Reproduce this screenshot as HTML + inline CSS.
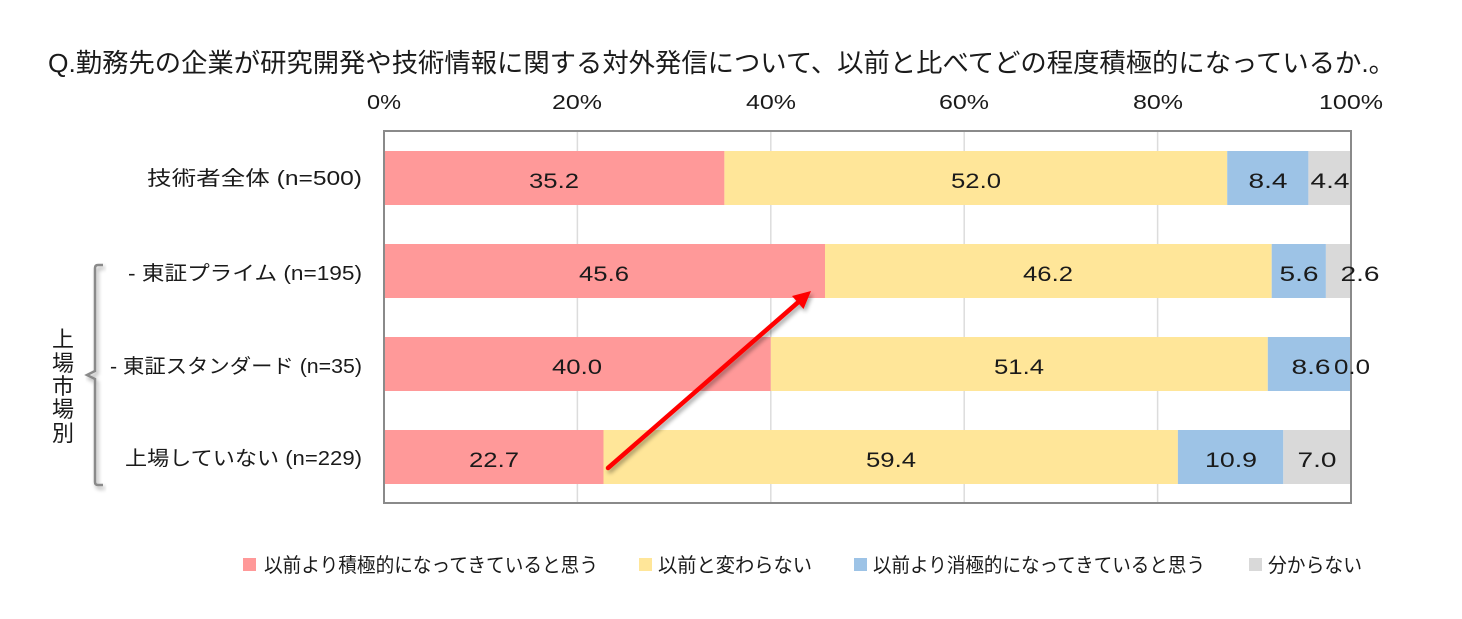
<!DOCTYPE html>
<html><head><meta charset="utf-8">
<style>
html,body{margin:0;padding:0;background:#fff;}
svg{display:block;}
text{font-family:"Liberation Sans","Noto Sans CJK JP",sans-serif;fill:#1a1a1a;}
</style></head>
<body>
<svg width="1462" height="619" viewBox="0 0 1462 619" xmlns="http://www.w3.org/2000/svg">
<defs>
<filter id="sh" x="-20%" y="-50%" width="140%" height="200%">
<feGaussianBlur in="SourceAlpha" stdDeviation="2"/>
<feOffset dx="2" dy="3" result="b"/>
<feComponentTransfer><feFuncA type="linear" slope="0.35"/></feComponentTransfer>
<feMerge><feMergeNode/><feMergeNode in="SourceGraphic"/></feMerge>
</filter>
</defs>
<rect width="1462" height="619" fill="#fff"/>

<!-- title -->
<text x="48" y="72" font-size="26" textLength="1347" lengthAdjust="spacingAndGlyphs">Q.勤務先の企業が研究開発や技術情報に関する対外発信について、以前と比べてどの程度積極的になっているか.。</text>

<!-- axis tick labels -->
<g font-size="20" text-anchor="middle">
<text x="384" y="109" textLength="34" lengthAdjust="spacingAndGlyphs">0%</text>
<text x="577" y="109" textLength="50" lengthAdjust="spacingAndGlyphs">20%</text>
<text x="771" y="109" textLength="50" lengthAdjust="spacingAndGlyphs">40%</text>
<text x="964" y="109" textLength="50" lengthAdjust="spacingAndGlyphs">60%</text>
<text x="1158" y="109" textLength="50" lengthAdjust="spacingAndGlyphs">80%</text>
<text x="1351" y="109" textLength="64" lengthAdjust="spacingAndGlyphs">100%</text>
</g>

<!-- gridlines -->
<g stroke="#dcdcdc" stroke-width="1.5">
<line x1="577.4" y1="131" x2="577.4" y2="503"/>
<line x1="770.8" y1="131" x2="770.8" y2="503"/>
<line x1="964.2" y1="131" x2="964.2" y2="503"/>
<line x1="1157.6" y1="131" x2="1157.6" y2="503"/>
</g>

<!-- bars -->
<g>
<rect x="384" y="151" width="340.4" height="54" fill="#ff9999"/>
<rect x="724.4" y="151" width="502.8" height="54" fill="#ffe699"/>
<rect x="1227.2" y="151" width="81.2" height="54" fill="#9dc3e6"/>
<rect x="1308.4" y="151" width="42.6" height="54" fill="#d9d9d9"/>

<rect x="384" y="244" width="441" height="54" fill="#ff9999"/>
<rect x="825" y="244" width="446.7" height="54" fill="#ffe699"/>
<rect x="1271.7" y="244" width="54.2" height="54" fill="#9dc3e6"/>
<rect x="1325.9" y="244" width="25.1" height="54" fill="#d9d9d9"/>

<rect x="384" y="337" width="386.8" height="54" fill="#ff9999"/>
<rect x="770.8" y="337" width="497" height="54" fill="#ffe699"/>
<rect x="1267.8" y="337" width="83.2" height="54" fill="#9dc3e6"/>

<rect x="384" y="430" width="219.5" height="54" fill="#ff9999"/>
<rect x="603.5" y="430" width="574.4" height="54" fill="#ffe699"/>
<rect x="1177.9" y="430" width="105.4" height="54" fill="#9dc3e6"/>
<rect x="1283.3" y="430" width="67.7" height="54" fill="#d9d9d9"/>
</g>

<!-- plot border -->
<rect x="384" y="131" width="967" height="372" fill="none" stroke="#8a8a8a" stroke-width="2"/>

<!-- separator -->
<line x1="66" y1="225" x2="1432" y2="225" stroke="#8f8f8f" stroke-width="1.5" filter="url(#sh)"/>

<!-- data labels -->
<g font-size="21" text-anchor="middle" style="fill:#222">
<text x="554" y="188" textLength="50" lengthAdjust="spacingAndGlyphs">35.2</text>
<text x="976" y="188" textLength="50" lengthAdjust="spacingAndGlyphs">52.0</text>
<text x="1268" y="188" textLength="39" lengthAdjust="spacingAndGlyphs">8.4</text>
<text x="1330" y="188" textLength="39" lengthAdjust="spacingAndGlyphs">4.4</text>

<text x="604" y="281" textLength="50" lengthAdjust="spacingAndGlyphs">45.6</text>
<text x="1048" y="281" textLength="50" lengthAdjust="spacingAndGlyphs">46.2</text>
<text x="1299" y="281" textLength="39" lengthAdjust="spacingAndGlyphs">5.6</text>
<text x="1360" y="281" textLength="39" lengthAdjust="spacingAndGlyphs">2.6</text>

<text x="577" y="374" textLength="50" lengthAdjust="spacingAndGlyphs">40.0</text>
<text x="1019" y="374" textLength="50" lengthAdjust="spacingAndGlyphs">51.4</text>
<text x="1311" y="374" textLength="39" lengthAdjust="spacingAndGlyphs">8.6</text>
<text x="1352" y="374" textLength="36" lengthAdjust="spacingAndGlyphs">0.0</text>

<text x="494" y="467" textLength="50" lengthAdjust="spacingAndGlyphs">22.7</text>
<text x="891" y="467" textLength="50" lengthAdjust="spacingAndGlyphs">59.4</text>
<text x="1231" y="467" textLength="52" lengthAdjust="spacingAndGlyphs">10.9</text>
<text x="1317" y="467" textLength="39" lengthAdjust="spacingAndGlyphs">7.0</text>
</g>

<!-- category labels -->
<g font-size="20">
<text x="147" y="185" textLength="215" lengthAdjust="spacingAndGlyphs">技術者全体 (n=500)</text>
<text x="128" y="280" textLength="234" lengthAdjust="spacingAndGlyphs">- 東証プライム (n=195)</text>
<text x="110" y="373" textLength="252" lengthAdjust="spacingAndGlyphs">- 東証スタンダード (n=35)</text>
<text x="125" y="465" textLength="237" lengthAdjust="spacingAndGlyphs">上場していない (n=229)</text>
</g>

<!-- vertical group label -->
<g font-size="22" text-anchor="middle">
<text x="63" y="347">上</text>
<text x="63" y="371">場</text>
<text x="63" y="394">市</text>
<text x="63" y="417">場</text>
<text x="63" y="441">別</text>
</g>

<!-- bracket -->
<path d="M103,265 L98,265 Q95,265 95,268 L95,371 L87,375 L95,379 L95,482 Q95,485 98,485 L103,485" fill="none" stroke="#8a8a8a" stroke-width="2.5" filter="url(#sh)"/>

<!-- arrow -->
<g filter="url(#sh)">
<line x1="608" y1="468" x2="799" y2="301.5" stroke="#ff0000" stroke-width="4.5" stroke-linecap="round"/>
<polygon points="811,291 803.5,309 792,296" fill="#ff0000"/>
</g>

<!-- legend -->
<g font-size="20">
<rect x="243" y="558" width="13" height="13" fill="#ff9999"/>
<text x="264" y="572" textLength="334" lengthAdjust="spacingAndGlyphs">以前より積極的になってきていると思う</text>
<rect x="639" y="558" width="13" height="13" fill="#ffe699"/>
<text x="658" y="572" textLength="154" lengthAdjust="spacingAndGlyphs">以前と変わらない</text>
<rect x="854" y="558" width="13" height="13" fill="#9dc3e6"/>
<text x="873" y="572" textLength="332" lengthAdjust="spacingAndGlyphs">以前より消極的になってきていると思う</text>
<rect x="1249" y="558" width="13" height="13" fill="#d9d9d9"/>
<text x="1268" y="572" textLength="94" lengthAdjust="spacingAndGlyphs">分からない</text>
</g>
</svg>
</body></html>
